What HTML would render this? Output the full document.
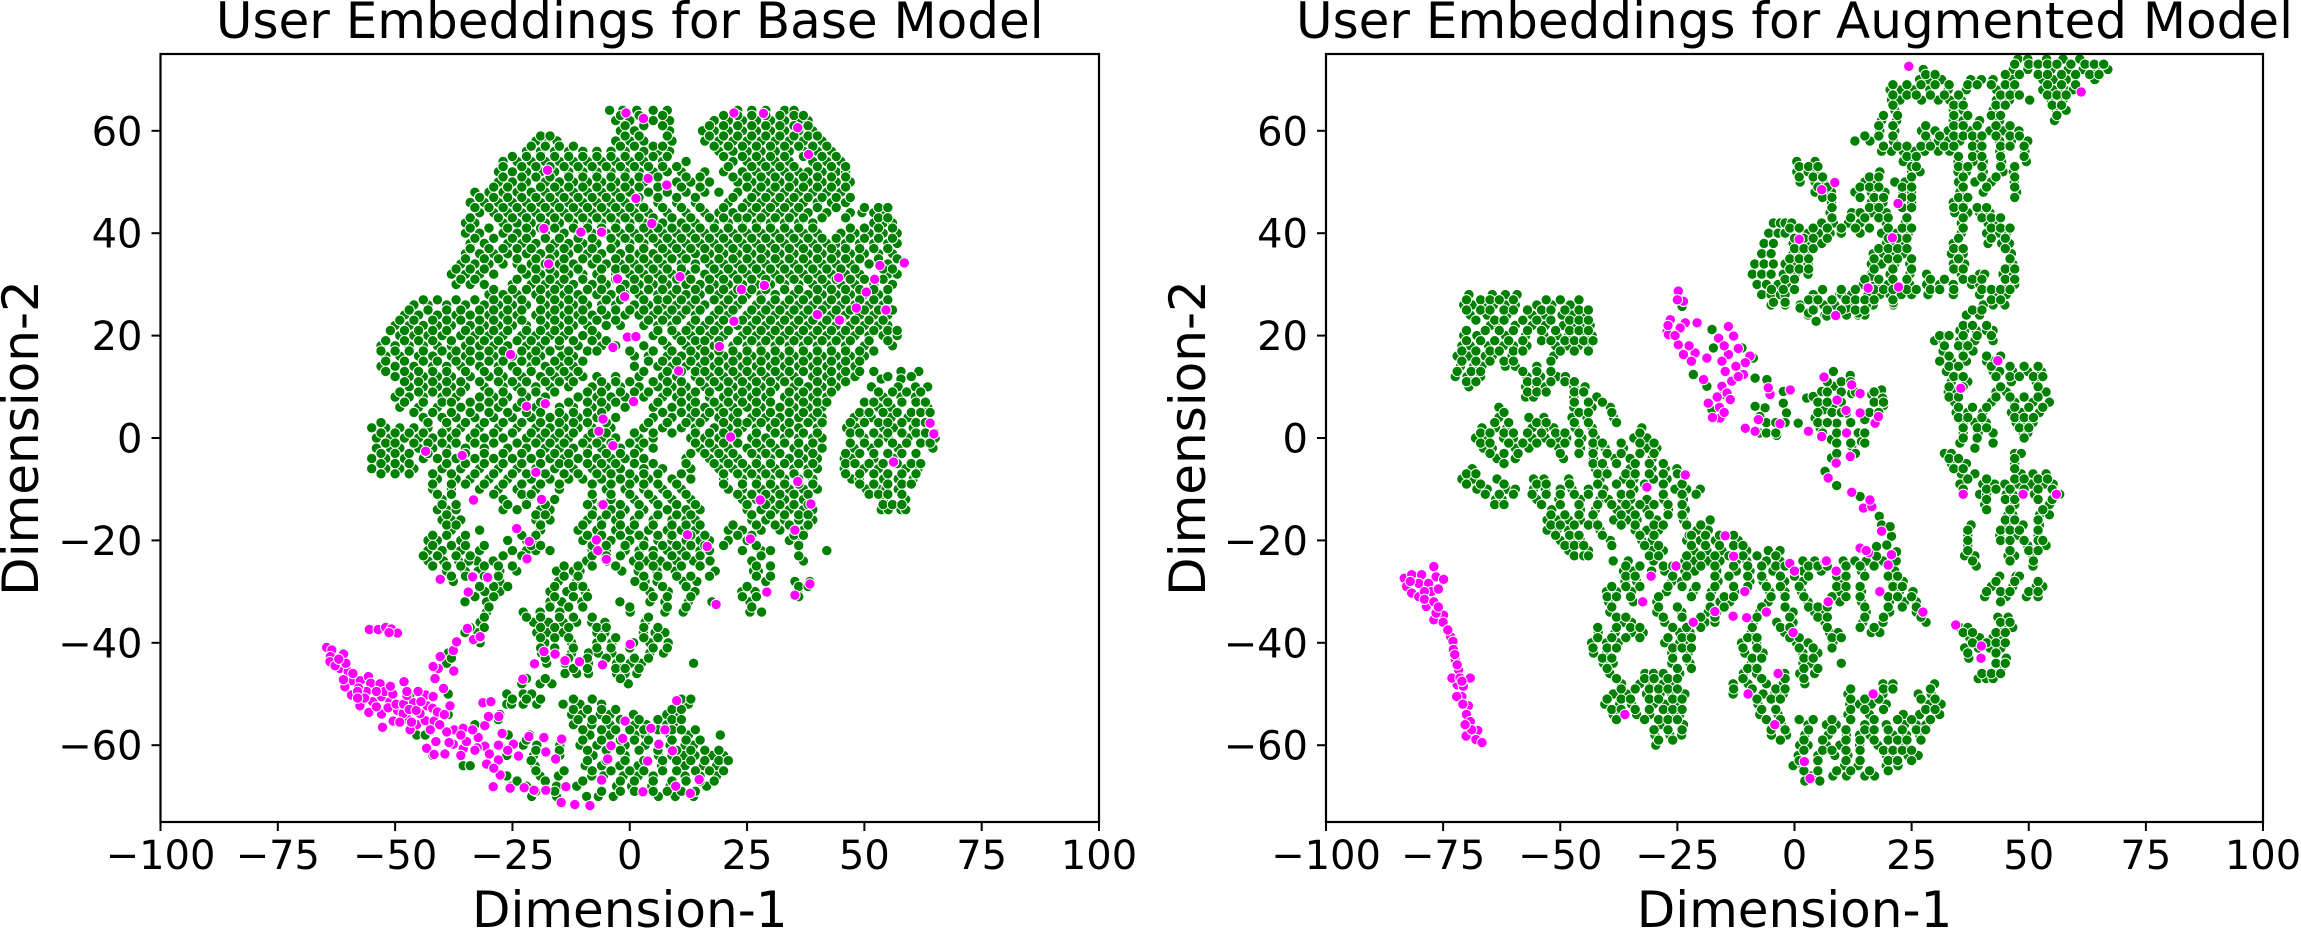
<!DOCTYPE html>
<html lang="en">
<head>
<meta charset="utf-8">
<title>User Embeddings</title>
<style>
html,body{margin:0;padding:0;background:#fff;width:2301px;height:941px;overflow:hidden}
svg{display:block}
text{font-family:"DejaVu Sans","Liberation Sans",sans-serif;fill:#000}
</style>
</head>
<body>
<svg id="fig" xmlns="http://www.w3.org/2000/svg" width="2301" height="941" viewBox="0 0 2301 941"></svg>
<script>
const xTicks=[-100,-75,-50,-25,0,25,50,75,100];
const yTicks=[-60,-40,-20,0,20,40,60];
const xLimits=[-100,100];
const yLimits=[-75,75];
const panelTitles=["User Embeddings for Base Model","User Embeddings for Augmented Model"];
const xAxisLabel="Dimension-1";
const yAxisLabel="Dimension-2";
/* Each row: first number is Dimension-2, the rest are Dimension-1 values at that height. */
const baseGreenRows=[
[64,-4.3,-1.5,1.5,5,8,23,26,29,33,35],
[62,-3,0,5,8.5,18,21,24,27,30,33,36,38],
[60,-2,1,8.5,15.5,18,21,24,27,30,33,36,39],
[58,-20,-18,-15.5,-3,0,3,9,16,19,22,25,28,31,34,37,41],
[56,-22,-19,-16,-13,-10,-7,-4,-1,3,6,8.5,19,22,25,28,31,34,37,40,43],
[54,-27,-24,-21,-18,-15,-12,-9,-6,-3,0,3,7,12,22,25,28,31,34,39,42,45],
[52,-28,-25,-22,-19,-16,-13,-10,-7,-4,-1,2,5,8,11,16,20,24,27,30,33,36,38,41,44,46],
[50,-28,-25,-22,-18,-15,-12,-9,-6,-3,0,3,10,13,17,23,26,29,32,35,38,41,44,47],
[48,-33,-30,-27,-24,-21,-18,-15,-12,-9,-6,-3,0,4,8,12,16,19,23,27,30,33,36,39,42,45],
[46,-34,-31,-28,-25,-22,-19,-16,-13,-10,-7,-4,-1,2,6,10,14,21,25,28,31,34,37,40,43,46],
[44,-32,-29,-26,-23,-20,-17,-14,-11,-8,-5,-2,1,4,8,12,16,19,22,26,29,32,35,38,42,47,49.5,52,54],
[42,-35,-33,-27,-24,-21,-18,-15,-12,-9,-6,-3,0,3,7,11,14,18,21,24,27,30,33,36,39,52,54,56],
[40,-35,-32,-27,-24,-21,-18,-14,-11,-8,-5,-2,1,4,7,10,13,16,19,22,25,28,31,34,37,40,45,48,51,54,57],
[38,-34,-31,-26,-23,-20,-16,-13,-10,-7,-3,0,3,6,9,12,15,18,21,24,27,30,33,36,39,42,44,46,49,52,55,57],
[36,-35,-32,-29,-26,-22,-19,-16,-13,-9,-6,-2,2,5,8,11,14,17,20,23,26,29,32,35,38,41,44,47,50,53,56],
[34,-36,-33,-30,-27,-24,-21,-18,-15,-12,-8,-5,-2,1,4,7,11,14,17,20,23,26,29,32,35,38,41,44,47,51,55],
[32,-38,-35,-32,-29,-22,-19,-16,-13,-10,-7,-3,0,3,6,9,12,16,19,22,25,28,31,34,37,40,43,46,49,55,57],
[30,-37,-34,-31,-25,-21,-18,-15,-12,-8,-5,-1,2,5,8,12,15,18,21,24,27,30,33,36,39,42,45,48,52,56],
[28,-30,-27,-24,-20,-17,-14,-11,-7,-4,-1,2,6,9,12,15,19,22,25,28,31,35,38,41,44,47,50,53],
[26,-46,-43,-39,-35,-31,-28,-25,-22,-18,-15,-12,-9,-6,-3,1,4,7,10,13,16,20,23,27,30,33,36,39,42,45,48,51,54],
[24,-48,-45,-41,-37,-34,-30,-27,-24,-20,-17,-14,-11,-8,-5,-1,2,5,8,11,14,18,21,25,28,31,34,37,40,43,46,49,52,55],
[22,-50,-47,-44,-41,-38,-34,-31,-28,-25,-22,-18,-15,-12,-9,-5,-2,3,6,9,13,16,19,23,26,29,32,35,38,41,44,47,50,53,55],
[20,-49,-46,-43,-40,-36,-33,-30,-27,-23,-20,-17,-14,-10,-7,5,10,13,17,20,24,27,30,33,36,39,42,45,48,51,54,57],
[18,-53,-50,-47,-44,-41,-38,-35,-32,-29,-26,-22,-19,-15,-11,-6,-3,3,8,12,15,18,22,25,28,31,34,37,40,43,46,50,56],
[16,-52,-49,-45,-42,-38,-35,-32,-29,-25,-21,-19,-14.5,-12,1,4,8,11,14,17,20,23,26,29,32,35,38,41,44,47,50],
[14,-53,-50,-46,-42,-39,-36,-32,-28,-25,-21,-18,-15,-12,1,6,9,12,15,18,21,24,27,30,33,36,39,42,45,48],
[12,-50,-47,-44,-41,-38,-34,-30,-27,-23,-19,-16,-13,-10,-7,-3,2,7,10,14,17,20,23,26,29,32,35,39,42,45,48],
[10,-47,-44,-41,-38,-35,-31,-27,-24,-20,-17,-13,-8,-5,-2,2,6,9,12,16,19,22,25,28,31,35,38,41,44],
[8,-50,-47,-44,-40,-37,-32,-29,-26,-22,-18,-11,-7,-4,-1,3,7,10,13,17,20,23,26,29,33,36,39,42],
[6,-49,-45,-41,-36,-32,-28,-24,-20,-15,-12,-8,-5,-1,5,9,13,16,19,22,25,28,32,35,38,41],
[4,-44,-40,-37,-33,-29,-25,-21,-17,-14,-11,-7,-3,5,9,13,16,19,22,26,29,32,36,39,41],
[2,-55,-52,-49,-46,-43,-39,-36,-32,-28,-24,-20,-17,-14,-11,-8,-4,3,7,11,14,18,21,24,27,30,33,36,40],
[0,-54,-51,-48,-45,-42,-38,-34,-31,-27,-22,-19,-16,-13,-9,-6,-3,2,5,13,16,19,22,26,29,33,36,39,41],
[-2,-54,-51,-49,-45,-42,-39,-35,-31,-26,-22,-18,-15,-12,-9,-6,-2,2,5,15,18,21,25,28,31,35,38,41],
[-4,-55,-52,-48,-44,-41,-37,-33,-29,-25,-21,-17,-14,-11,-7,-4,-1,3,12,17,20,23,27,30,34,37,40],
[-6,-55,-52,-49,-46,-40,-36,-32,-28,-24,-20,-16,-12,-8,-5,-2,3,7,13,19,22,25,28,31,35,38,40],
[-8,-41,-37,-34,-30,-26,-21,-17,-13,-10,-6,-2,1,4,9,13,20,24,27,30,33,36,39],
[-10,-42,-38,-32,-28,-24,-20,-15,-5,-1,3,7,11,21,24,28,31,34,37,40],
[-12,-40,-27,-22,-19,-16,-8,-4,1,5,9,13,24,27,30,33,37],
[-14,-41,-39,-37,-27,-24,-19,-17,-8,-4,-1,3,8,12,15,25,28,31,34,37,39],
[-16,-40,-38,-36,-20,-17,-9,-6,-3,1,5,9,12,14,26,29,33,36,39],
[-18,-38,-32,-19,-11,-7,-3,0,4,8,11,14,21,24,28,32,35,37],
[-20,-43,-41,-36,-26,-22,-20,-10,-7,-4,0,3,6,9,12,15,17,21,25,34,36],
[-22,-43,-40,-36,-32,-25,-22,-20,-17,-8,-5,-1,2,5,8,11,15,17,24,28,30,42],
[-24,-42.6,-39.7,-36.5,-32.6,-29.1,-43,-34.3,-9.2,-4.9,0.8,3.6,6.5,10,13.6,17.1,26,37],
[-26,-39,-35.1,-32.3,-27.7,-24.1,-15.6,-12,-10.6,-1.7,1.8,5.8,9.7,18.2,26.4,27.4],
[-28,-37.6,-27.7,-15.2,-11.3,1.1,3.3,5.8,11.4,14.3,29,35.2,38.4],
[-30,-30.9,-27.7,-17,-13.4,-9.5,4.3,8.2,13.9,23.9,26.7,35.8],
[-32,-35.1,-30.5,-17,-14.5,-10.2,-2.1,4.3,7.5,12.5,17.5,25.6],
[-34,-30.5,-22.7,-19.1,-14.9,0.1,7.5,11.4,25.6,28.1],
[-36,-31.9,-20.5,-17.3,-14.2,-11.3,-8.1,-5.3,3.3],
[-38,-35.1,-32.3,-19.8,-17.7,-14.2,-7,-5.3,2.9,5.4,7.5],
[-40,-31.9,-18.1,-12.4,-7,-3.8,0.8,4.3,8.2],
[-42,-38.7,-18.8,-12.4,-8.8,-6.7,-3.8,4.3,7.2],
[-44,-39,-17.7,-13.8,-8.8,-2.8,0.1,2.5,13.6],
[-46,-13.8,-11.3,-8.8,-2.8,-1,1.5],
[-48,-23,-19.1,-16.6,-0.3],
[-50,-38.7,-26.2,-22.7,-20.9,-46.8],
[-52,-26.2,-25.2,-22.7,-19.8,-14.2,-10.6,-6,10.7,12.5],
[-54,-38.7,-27.7,-12.4,-10.2,-6.3,-4.2,0.8,7.9,10],
[-56,-33,-12,-8.1,-4.2,1.1,3.6,7.9,9.3],
[-58,-45.4,-43.6,-25.9,-21.3,-8.5,-4.2,1.1,3.3,8.6,12.5,19.3],
[-60,-27.7,-22.7,-19.8,-14.9,-10.6,-7,-1,3.3,8.6,11.8,13.6],
[-62,-42,-26.2,-20.5,-14.9,-7.8,-1,6.1,9,11.4,13.9,17.5,20],
[-64,-35.5,-34,-20.2,-9.5,-6,-2.1,1.8,6.8,11.8,15.7,18.5],
[-66,-26.2,-19.1,-15.2,-8.1,-5.6,-1.4,1.8,5,11.8,15,18.5],
[-68,-25.2,-22,-15.6,-11.3,-2.8,0.4,4.7,8.6,16.4],
[-70,-20.9,-15.6,-9.2,-6.7,-3.5,6.1,9.7,13.6],
[13,52,57.8,61.6],
[11.5,53.6,57.8],
[10,51.5,57.2,60.9,63.5],
[8,54,57.8,60.9],
[6,53,55.7,63.5],
[4,47.8,49.9,51.5,55.7,59.3],
[2,46.2,48.3,54.1,56.2,60.4],
[0,49.9,53,55.1,59.3,64,65.1],
[-2,47.8,51.5,57.2,64.6],
[-4,45.7,47.3,52,56.2],
[-6,45.7,49.9,53,58.8,61.4],
[-8,47.3,48.9,54.1,57.2,60.4],
[-10,50.4,53,54.6,57.2],
[-12,54.1,58.8],
[-14,53.6,55.1,57.8,58.8],
[12,55,60],[9,53,56,59,62],[7,50,52,55,58,61,63],[5,49,51,54,57,60,62,64],[3,47,50,53,55,58,61,63],[1,47,49,52,55,58,61,63,65],[-1,47,50,53,56,59,62,64],[-3,46,49,52,55,58,61],[-5,46,48,51,54,57,60,62],[-7,46,49,52,55,58,61],[-9,49,52,55,58,60],[-11,51,53,55,58],[-13,54,56,58],
[63,-2,2,7,20,23,26,29,32,35,37],
[61,-1,3,7,17,20,23,26,29,32,35,38],
[59,-19,-17,-1,2,8,17,20,23,26,29,32,35,38,40],
[57,-21,-18,-15,-12,-2,1,5,7,18,21,24,27,30,33,36,39,42],
[55,-25,-22,-19,-16,-13,-10,-7,-4,-1,2,5,8,20,24,27,30,33,37,41,44],
[53,-27,-23,-20,-17,-14,-11,-8,-5,-2,1,4,7,10,21,26,29,32,35,40,43,46],
[51,-27,-23,-20,-17,-13,-10,-7,-4,-1,2,6,12,15,22,25,28,31,34,37,40,43,46],
[49,-29,-26,-23,-19,-16,-13,-10,-7,-4,-1,2,6,11,15,25,28,31,34,37,40,43,46],
[47,-32,-29,-26,-23,-20,-17,-14,-11,-8,-5,-2,2,6,10,14,22,26,29,32,35,38,41,44,47],
[45,-33,-30,-27,-24,-21,-18,-15,-12,-9,-6,-3,0,3,7,11,15,20,24,27,30,33,36,40,44,50,53,55],
[43,-34,-28,-25,-22,-19,-16,-13,-10,-7,-4,-1,2,5,9,13,17,20,23,25,28,31,34,37,41,46,53,55],
[41,-34,-30,-26,-22,-19,-16,-12,-9,-6,-3,0,3,6,9,12,15,18,21,24,27,30,33,36,39,47,50,53,56],
[39,-33,-29,-25,-22,-18,-15,-11,-8,-4,-1,2,5,8,11,14,17,20,23,26,29,32,35,38,41,44,47,50,53,56],
[37,-34,-30,-27,-24,-21,-17,-14,-11,-8,-4,0,3,7,10,13,16,19,22,25,28,31,34,37,40,43,46,49,52,55],
[35,-35,-31,-28,-24,-20,-17,-14,-10,-7,-3,0,3,6,9,12,16,19,22,25,28,31,34,37,40,43,46,49,53,57],
[33,-37,-34,-31,-23,-20,-17,-14,-11,-6,-3,-1,2,5,8,11,14,18,21,24,27,30,33,36,39,42,45,48,54,56],
[31,-36,-33,-24,-20,-17,-14,-10,-6,-3,1,4,7,10,13,17,20,23,26,29,32,35,38,41,44,47,50,54],
[29,-29,-25,-22,-19,-16,-13,-9,-6,-2,1,4,7,10,14,17,20,23,26,29,33,36,40,43,46,49,52,55],
[27,-44,-41,-37,-33,-29,-26,-23,-19,-16,-13,-10,-5,-2,3,6,8,11,14,18,21,24,28,31,34,37,40,43,46,49,52,55],
[25,-47,-43,-39,-36,-32,-29,-26,-23,-19,-16,-13,-10,-6,-3,0,3,6,9,12,15,19,22,26,29,32,35,38,41,44,47,50,53,56],
[23,-49,-46,-42,-39,-36,-32,-29,-26,-23,-19,-16,-13,-10,-7,-3,4,7,10,14,17,20,24,27,30,33,36,39,42,45,48,51,54],
[21,-51,-48,-45,-42,-39,-35,-32,-29,-26,-22,-19,-16,-13,-8,6,9,12,15,18,21,25,28,31,34,37,40,43,46,49,52,55,57],
[19,-52,-48,-45,-42,-38,-34,-31,-28,-24,-21,-18,-15,-12,-8,-5,7,11,14,16,19,23,26,29,32,35,38,41,44,47,51,55],
[17,-53,-50,-47,-44,-40,-37,-34,-30,-27,-23,-20,-17,-13,-9,-7,0,5,9,13,16,19,22,25,28,31,34,37,40,43,46,49,52],
[15,-52,-48,-44,-41,-37,-34,-30,-27,-23,-20,-16,-13,-10,4,7,10,13,16,19,22,25,28,31,34,37,40,43,46,49],
[13,-52,-48,-45,-42,-39,-35,-31,-28,-24,-21,-17,-14,-11,3,8,11,14,16,19,22,25,28,31,34,37,40,43,46,49],
[11,-48,-45,-42,-39,-36,-32,-28,-25,-22,-18,-15,-12,-6,-3,0,5,8,11,15,18,21,24,27,30,33,36,40,43,46],
[9,-49,-45,-42,-39,-36,-30,-27,-23,-20,-16,-9,-6,-2,1,4,8,11,14,17,21,24,27,30,34,37,40,43],
[7,-48,-44,-40,-38,-34,-30,-27,-23,-19,-13,-9,-6,-3,1,6,11,14,18,21,24,27,30,34,37,40,42],
[5,-46,-42,-38,-34,-30,-26,-22,-19,-15,-12,-9,-6,7,11,14,17,20,23,27,30,34,37,40],
[3,-53,-43,-39,-35,-31,-27,-23,-19,-15,-12,-9,-5,4,8,12,15,20,23,25,28,31,34,38,41],
[1,-53,-50,-47,-44,-40,-37,-33,-29,-25,-21,-18,-15,-12,-8,-5,1,5,9,14,17,20,23,27,31,34,37,40],
[-1,-52,-50,-46,-43,-40,-37,-33,-29,-24,-20,-17,-14,-10,-7,-4,0,3,14,17,20,23,27,30,33,36,39],
[-3,-53,-50,-47,-43,-39,-35,-31,-27,-23,-19,-16,-13,-9,-5,-2,1,13,16,19,22,26,29,32,36,39],
[-5,-53,-50,-47,-39,-35,-31,-27,-23,-19,-15,-13,-9,-6,-3,1,5,12,18,21,24,27,30,33,36,39],
[-7,-53,-50,-47,-42,-38,-33,-29,-25,-22,-18,-14,-11,-7,-4,0,3,6,11,20,23,26,29,32,35,38],
[-9,-42,-38,-35,-31,-27,-23,-19,-15,-8,-4,0,3,6,10,20,24,27,30,33,36,39],
[-11,-41,-38,-29,-23,-21,-8,-4,0,4,8,12,23,26,29,32,35,38],
[-13,-40,-37,-26,-22,-18,-9,-6,-2,2,6,10,14,25,29,32,35,38],
[-15,-39,-20,-18,-8,-5,-2,2,6,10,13,26,30,33,36,38],
[-17,-39,-37,-19,-10,-6,-2,1,5,9,12,15,22,27,31,34,38],
[-19,-42,-39,-35,-23,-20,-9,-6,-2,2,6,9,13,16,23,26,35,37],
[-21,-42,-38,-35,-31,-21,-19,-8,-5,-1,3,7,10,13,16,20,27,36],
[-23,-44,-41,-37,-34,-27,-23,-8,-5,-2,2,5,9,12,15,28,36],
[-25,-42,-39,-36,-31,-28,-25,-14,-11,-8,-3,2,5,8,11,15,27,30],
[-27,-38,-35,-31,-28,-14,-11,3,6,10,13,17,27,30],
[-29,-32,-29,-26,-16,-12,-10,3,7,12,25,36,38],
[-31,-33,-29,-16,-12,-9,5,8,13,24,27,36],
[-33,-30,-17,-13,-10,0,8,12,26],
[-35,-31,-22,-19,-15,-12,-8,4],
[-37,-34,-31,-19,-16,-13,-7,-5,3,6],
[-39,-32,-19,-16,-13,-6,-3,3,6],
[-41,-19,-16,-12,-7,-4,0,5,8],
[-43,-38,-18,-13,-9,-5,-2,1,4],
[-45,-12,-9,-3,-1,2],
[-47,-22,-18,-2],
[-51,-25,-22,-19,-12,-8,11,13],
[-53,-12,-9,-6,-3,9,11],
[-55,-28,-11,-8,-5,-2,2,6,9,11],
[-57,-10,-6,-3,0,3,6,9,11,14],
[-59,-22,-10,-6,-2,1,4,9,12,15],
[-61,-20,-15,-9,-5,-2,2,6,10,13,16,19],
[-63,-21,-9,-5,-1,3,7,10,13,16,19,21],
[-65,-20,-14,-8,-4,0,3,7,10,14,17,20],
[-67,-24,-18,-10,-6,-2,1,5,9,12,15,18],
[-69,-20,-16,-6,-2,1,5,8,11,14]
];
const basePinkPoints=[
[-64.6,-40.9],[-63.5,-41.4],[-61,-42.2],[-63.8,-42.7],[-63.9,-43.7],[-61.8,-45],[-62.8,-44.5],[-60,-45.6],[-59.3,-47.4],[-57.4,-47.4],[-55.7,-46.6],[-55.2,-47.9],[-60.7,-48.6],[-53.2,-48],[-59.3,-50.2],[-57.9,-51],[-56.1,-49.5],[-52.9,-50.5],[-54.8,-51.5],[-52.2,-49.5],[-57.5,-52.3],[-55.6,-53.6],[-52.9,-53.9],[-51.1,-51.5],[-50.4,-55.3],[-52.7,-56.5],[-49.5,-53.2],[-47.4,-54.9],[-46.1,-51.7],[-43.2,-52.3],[-43.5,-50.2],[-45.1,-49.5],[-48.1,-47.6],[-41.9,-50.5],[-45.4,-56],[-43.6,-55.2],[-41.7,-55.3],[-48.3,-53.8],[-44.7,-53.8],[-46.8,-57],[-38.3,-52.3],[-39.7,-48.9],[-41.5,-47],[-40.8,-45],[-41.9,-44.6],[-37.5,-45.5],[-40.4,-42.7],[-37.6,-41.5],[-36.9,-39.8],[-34.6,-37],[-33.3,-39.4],[-31.9,-38.8],[-55.5,-37.4],[-53.6,-37.4],[-52,-37],[-50.8,-37.3],[-49.5,-38.1],[-51.3,-38],[-37.4,-57],[-39,-57.4],[-41.3,-59.3],[-43.3,-60.6],[-41.7,-61.8],[-39.4,-61.7],[-37.6,-59.8],[-35.5,-60.7],[-34.8,-59.3],[-32.3,-58.5],[-30.9,-60.2],[-29.9,-61.7],[-35.5,-56.7],[-30.9,-56.2],[-30.1,-54.4],[-27.9,-54.4],[-31.3,-51.7],[-29.6,-51.5],[-27.2,-57.7],[-28,-62.9],[-30.5,-63.7],[-27.6,-65.8],[-29.1,-68.1],[-25.5,-68.4],[-24.8,-59.8],[-23.7,-62.1],[-21.5,-58.3],[-18.3,-58.5],[-17.9,-61.3],[-15.8,-62.7],[-14.5,-58.8],[-22.5,-68.3],[-20.4,-68.8],[-17.9,-68.8],[-13.6,-68.1],[-14.6,-71.2],[-11.7,-71.6],[-8.5,-71.8],[-4.7,-62.7],[-4,-60.1],[-1.5,-58.7],[4.5,-56.7],[7.5,-57],[9.1,-61.1],[6.2,-59.8],[3.8,-63.1],[9.8,-68],[12.9,-69.4],[2.8,-69.1],[14.8,-66.7],[-6,-66.8],[10,-51.3],[-1,-55.3],[-18.3,-41.7],[-15.9,-42.2],[-13.8,-43.5],[-10.7,-43.7],[-5.8,-44.3],[0.1,-40.3],[-20.3,-44.1],[-22.8,-47.1],[-33.3,-27],[-30.1,-27.4],[-40.4,-27.7],[-34.4,-30.1],[18.4,-32.5],[-22,-23.8],[29.2,-30.1],
[-60.5,-44],[-62,-43.2],[-59,-46],[-57.8,-48.8],[-56.5,-50.8],[-58,-49.5],[-54,-49.5],[-54,-52.5],[-51.5,-52.7],[-50.5,-50],[-49.8,-52],[-48.2,-52],[-47,-53],[-45.5,-53.2],[-44.5,-51.5],[-42,-52.8],[-41,-53.5],[-39.5,-54],[-46.5,-55.5],[-49,-55.5],[-42.5,-57],[-40.5,-56],[-38.5,-59.5],[-36,-58],[-33.5,-57],[-32.5,-60.5],[-36,-62],[-33,-61],[-28,-60],[-26,-61],[-29,-64.5],[-47.5,-50.3],[-51,-48.5],[-61,-47.2],[-58,-50.8],[-47.5,-49.5],
[-17.5,52.3],[1.3,46.8],[7.9,49.4],[4.7,41.9],[-18.3,40.9],[-10.4,40.2],[-6,40.2],[2.9,62.4],[-0.8,63.5],[3.9,50.7],[-17.3,34],[-2.6,31.1],[-1.1,27.6],[23.8,29],[28.7,29.8],[22.2,22.8],[28.5,63.4],[22.2,63.5],[10.7,31.5],
[35.8,60.6],[38.1,55.4],[58.5,34.2],[53.3,33.7],[52.2,31],[50.4,28.5],[54.6,25.1],[44.7,23],[40,24.1],[44.5,31.3],[48.3,25.4],
[19.1,17.9],[10.4,13.1],[-0.5,19.7],[1.3,19.8],[-3.6,17.7],[-18,6.7],[-22,6.2],[-5.7,3.7],[-6.6,1.3],[-3.6,-1.5],[21.5,0.2],[0.8,7.1],[-43.5,-2.6],[-35.7,-3.4],[-20,-6.7],[-18.8,-12],[-33.3,-12.1],[-24.1,-17.7],[-21.4,-20.2],[-21.9,-23.6],[-7.1,-19.9],[-6.8,-22],[-5,-23.7],[12.3,-18.9],[16.5,-21.2],[25.7,-19.7],[-40.4,-27.6],[-33.5,-27.1],[-30.3,-27.2],[-34.6,-37.2],[-5.7,-13],[27.8,-12.1],[-25.4,16.3],
[56.2,-4.7],[64,2.9],[64.8,0.8],[35.2,-18],[38.6,-12.9],[38.4,-28.5],[35.2,-30.7],[54.6,25],[35.8,-8.5]
];
const augGreenRows=[
[74,47.7,49.8,53.8,57.3,60.9],
[72,27.5,46.7,49.8,54.8,58.4,61.6,64.4,66.9],
[70,26.7,28.5,31.4,37.6,39.9,42.4,46.6,53,55.2,58,64.1],
[68,20.4,22.8,25.3,28.9,32.8,36.7,43.1,46.3,53,55.2,57.7,59.5],
[66,20.7,22.5,27.1,30.7,33.1,35.6,43.1,45.9,50.2,54.8,57.3],
[64,21.4,33.9,36,42.4,55.9,58],
[62,18.6,21.8,33.9,36,39.5,43.8,55.5],
[60,18.2,21.4,27.1,30,32.8,37.4,41.7,44.5,47.9],
[58,12.9,16.1,21.1,28.2,30.7,32.8,35.3,39.5,43.8,46.3,49.8],
[56,18.6,20.7,23.2,25.7,27.8,30.7,33.1,39.5,43.8,49.2],
[54,0.5,4.4,23.2,25.3,34.9,38.1,40.3,44.2,49.5],
[52,0.5,2.9,4.4,18.2,25,26.8,34.9,36.7,40.3,44.5,46.7],
[50,1.2,4.4,6.1,15,17.2,21.4,23.6,35,38.5,42,46.9],
[48,4.4,7.9,12.9,16.4,19.3,23.2,25,35.3,40.3,47.4],
[46,7.9,16.4,18.9,25,33.9,36],
[44,7.6,12.2,14,16.4,19.6,34.2,37,39.5,41.7],
[42,-4.5,-3,-2,-0.6,5.8,8.3,11.5,14,19.6,23.6,35.6,41.3,43.5],
[40,-5.5,-3.5,-2,1.2,2.9,5.1,7.6,10,14,18.6,21.8,24.3,35.6,41,43.8,45.2],
[38,-6.5,-4.5,-0.3,1.5,3.3,5.8,19.6,21.4,23.6,33.9,41.3,44.2,45.9],
[36,-7,-5,-0.3,1.2,2.9,16.8,19,21.4,23.2,33.5,36,46.3],
[34,-8.5,-6.5,-4.5,-2,0.1,2.9,16.4,18.6,21.4,24.6,33.9,36.3,46.6],
[32,-9,-7,-5,-2.4,0.1,2.9,16.4,20.4,24.6,28.2,35.6,39.5,40.6,45.9,44.5],
[30,-8,-6,-3.5,-1.7,14.7,17.2,20,24.6,28.2,31,33.9,37.8,39.5,45.2,47],
[28,-7,-5,-3,-2,4,9.7,12.2,15.7,18.6,20.4,22.8,25,28.5,33.9,39.5,42.4,45.2],
[26,-5,-2,1.2,5.8,8.6,11.5,15.4,16.8,21.1,42.4,44.9,40.3],
[24,2.9,6.5,11.1,13.6,15,36.7,39.5],
[29,-2.4,-4.9],[26.5,-4.5,-2],[31.6,0.1,16.5],[25.4,1.2,11.1],[24.4,3,13.6],[27,4],[22.8,4.6],[26,6.2,15.4],[23.8,6.9],[28,10.1,12.2,18.2],[26.4,21.1],
[21,35.3,38.8,42.4,36.3,41],
[19,29.9,32,36,38.5,42.4,35.3,31.7],
[17,31.7,36,38.1],
[15,31,33.5,36.7,41,42.4],
[13,32.4,42.4,43.8,46.6,49.8,52.7],
[11,33.5,37,46.3,51.6],
[9,32.8,34.2,43,45.2,53.7],
[7,34.2,42,47,50.9,54.4],
[5,34.5,37,40.2,46.3,48.4,52.3],
[3,36,38.5,40.9,47.3,49.5,50.9],
[1,36,39.2,42.4,48.8,49.8],
[-1,35.3,42.4],
[-2,38.5],
[-3,32,33.5,47,48.4],
[-5,33.5,36.7,47],
[-7,35.6,38.5,48.4,50.9,53.7],
[-9,35.3,40.2,42.7,44.9,47.7,50.5,53.4,55.2],
[-11,39.5,41,45.2,46.6,51.2,56.6],
[-13,40.6,47,54.4],
[-15,45.6,46.6,52.3,54.4],
[-17,37.7,45.2,48.8,52.3],
[-19,37,43.8,46.3,47.7,52],
[-21,37,49.8,52.3,53.7],
[-23,36.3,38.5,45.6,47,50.9],
[-25,38.8,50.9],
[-27,43.8,47.3,48],
[-29,42,46.6,51.6,53],
[-31,40.6,45.2,49.5,52],
[-35,43.4,45.6],
[-37,35.3,37,44.9,46.6],
[-39,37.4,39.5,42.4,44.5],
[-41,36.3,39.2,41.7,44.1],
[-43,37.2,45.2],
[-45,43.1,44.1],
[-47,39.2,40.9,42.4],
[28,-69.5,-64.5,-61.7,-59.2],
[26,-70.6,-68.8,-66,-64.2,-61.7,-59.6,-55,-51.8,-47.9],
[24,-69.2,-65.6,-61.4,-56,-53.2,-49.6,-47.5,-45],
[22,-64.9,-63.1,-59.6,-56,-53.2,-49.3,-47.5,-45,-43.6],
[20,-70.6,-67.8,-61.7,-57.4,-53.5,-50.7,-48.2,-45,-43.2],
[18,-71,-69.2,-65.3,-62.1,-60,-57.1,-51,-48.6,-46.1,-44],
[16,-72,-69.5,-66,-64.5,-60.3,-51.4],
[14,-71.3,-68.5,-66.7,-61.7,-59.6,-55],
[12,-72.4,-69.9,-67,-57.1,-54.2,-50.7,-48.9],
[10,-69.5,-57.4,-55,-53.2,-47.1,-44.7],
[8,-57.4,-55.7,-47.1,-42.2],
[6,-63.1,-47.1,-43.2,-39.3],
[4,-63.1,-56.7,-53.5,-47.5,-44.3,-38.6],
[2,-66.7,-63.8,-61.4,-56,-53.2,-51.4,-46.8,-43.2,-32.6],
[0,-68.1,-65.6,-62.1,-60,-56,-53.2,-50.7,-48.6,-45.4,-42.5,-34.3,-31.5],
[-2,-66.4,-64.5,-59.6,-56.7,-50.3,-45.7,-42.9,-40.4,-36.5,-31.5,-29.4],
[-4,-63.5,-59.6,-49.3,-42.9,-38.3,-35.1,-30.4],
[-6,-68.8,-42.5,-40.7,-35.1,-30.4,-27.6,-25.1],
[-8,-71,-68.5,-63.5,-55.7,-53.5,-48.2,-41.5,-36.5,-34.3,-30.1,-27.2],
[-10,-67.8,-65.6,-61.4,-59.6,-55.7,-53.2,-50,-47.5,-44,-40.7,-34.3,-25.5,-23,-20.1],
[-12,-63.8,-62.4,-55,-50.3,-45.7,-41.5,-39.7,-36.8,-35,-31.5,-27.9,-23.7],
[-14,-51.8,-45.7,-42.5,-37.9,-35.1,-31.5,-26.9,-23.3],
[-16,-52.8,-50.3,-48.2,-45.7,-42.9,-38.6,-35.8,-33.6,-29.4,-23.7,-18],
[-18,-52.8,-50.7,-48.2,-41.5,-34,-31.5,-29,-20.8,-18.4],
[-20,-50,-47.9,-45.7,-39.3,-32.6,-30.4,-23,-20.1,-16.9,-12],
[-22,-48.2,-44,-30.4,-28,-21.5,-18.7,-15.5,-10.2,-5.6,-3.1],
[-24,-38.7,-35.5,-30.1,-23.4,-21.3,-18.4,-15.9,-12.4,-10.2,-6,-3.1,1.8,4.3,10.4,12.9,15.3,18.9,21.7],
[-26,-36.5,-34.4,-30.5,-27.7,-23.4,-21.3,-16.6,-12.4,-9.5,-4.6,1.8,5.7,14.3,21.4],
[-28,-36.2,-33.7,-26.2,-24.1,-16.3,-9.5,-6.7,-2.1,1.8,10.4,21,23.2],
[-30,-40.1,-38,-34.8,-27.3,-21.6,-17.7,-12.7,-5.3,-2.1,1.5,9.7,14.3,22.4,25.3],
[-32,-39.7,-34.4,-29.4,-15.9,-13.8,-5.6,2.9,9.7,14.3,20.3,23.5,26],
[-34,-39.4,-29.4,-24.1,-18.4,-16.6,-7.4,-0.3,4.3,6.5,15.3,20.3,26],
[-36,-36.5,-34.8,-27.7,-19.1,-17,-8.8,-3.8,-0.3,6.5,14.6,18.9,28.1],
[-38,-41.9,-38.3,-34.8,-32.3,-24.5,-22.3,-9.2,-2.1,7.5,9.3,16.4,18.2],
[-40,-43.3,-40.1,-37.6,-27.7,-24.5,-22.3,-11.3,-8.1,0.4,2.9,8.2],
[-42,-42.9,-40.1,-26.2,-22.7,-10.6,-6.7,1.8,5],
[-44,-40.8,-38.7,-26.2,-22.3,-9.2,1.8,3.6,10],
[-46,-39.4,-31.9,-30.1,-28,-24.5,-10.9,-8.1,-2.1,1.1,4.3],
[-48,-36.9,-33,-30.9,-28,-25.9,-13.1,-9.9,-6,-2.4,2.2,18.9,21,29.9],
[-50,-38.7,-35.8,-31.6,-28.7,-26.2,-23.4,-13.1,-6.7,-4.2,-2.4,11.4,18.9,26.4,29.2],
[-52,-40.5,-37.3,-34.8,-30.1,-27.7,-24.5,-7.8,11.8,13.9,16.4,19.6,28.8,31.3],
[-54,-38.7,-37.3,-33.7,-30.9,-26.6,-24.5,-7.4,-3.5,11.4,16,23.2,26.7,31],
[-56,-28.7,-23.7,-4.9,-2.8,2.9,6.8,8.9,15,19.6,23.5,26,28.1],
[-58,-29.8,-26.6,-24.1,-4.9,-1.7,2.2,7.2,11.1,13.9,16.1,21,23.9,26.7],
[-60,1.1,2.9,6.8,9.7,13.9,17.8,23.2,-29.6],
[-62,0.8,5,8.6,11.4,19.6,21,24.2,26.4],
[-64,-0.3,1.8,10.7,13.6,19.6,22.1],
[-66,3.6,8.2,11.1,15,17.1],
[-67,2.2,5.4],
[25.7,-24],[21.2,-17.6],[17.6,-17.3,-11.2],[15.6,-8.8],[12.4,-21.6],[10.1,-18.7],[11.7,-8.4],[11.4,-5.9],[8.5,-15.5],[5.5,-17.6],[13.7,-12.3],
[5.9,-6.3],[6.2,-8.4],[4.2,-7.4],[9.1,-2.4],[6.8,-2.4],[4.9,-1.7],[2.9,0.8],[0.5,-3.8],[1,-7.4],[7.8,2.6],[8.1,4],[9.1,5.8],[13,8.3],[10.1,8.3],[12.2,11.9],[8.7,12.2],[8.5,16.5],[9.4,18.6],[7.8,18.8],[6.3,19],[5.5,6.2],[6.5,8.3],[3.9,4.4],[2.9,9],[1.9,5.5],[3.6,15],[1,13.6],[-0.3,7.9],[-0.7,14.3],[-1.6,12.2],[-3.9,7.9],[-6.5,6.5],[-9.3,9],[4.9,11.1],[3,6.9],
[-11.4,14],[-15.3,18.1],[-17,18.6],[-19.2,20.7],[-21.2,17.5],[-20.9,19.7],[-17.3,20.4],[-23.1,17.5],[-22.2,21.8],[-19,-22.5,-19,-15],
[73,47,50,52,54,56,59,62,64,66],
[71,28,30,45,48,52,54,57,60,63,65],
[69,21,24,27,30,33,37,39,42,45,47,54,57,60],
[67,21,24,26,29,32,35,44,46,48,54,56,58],
[65,21,34,36,43,45,55,57],
[63,19,22,34,37,42,44,56],
[61,18,21,28,34,36,39,43,46],
[59,15,18,21,28,31,34,36,38,40,43,46,48],
[57,19,22,24,27,29,32,34,38,40,44,46,49],
[55,24,26,35,38,40,44,49],
[53,1,3,5,25,26,35,37,40,44,47],
[51,1,4,6,16,18,25,36,40,43,47],
[49,5,7,14,16,18,23,25,36,41,47],
[47,6,8,14,17,19,23,25,35,37,47],
[45,8,16,18,23,25,34,36,39,41],
[43,8,12,15,18,20,24,36,40,42,44],
[41,-1,1,4,7,10,13,16,20,23,25,36,42,44,46],
[39,0,2,4,7,20,22,24,35,42,45],
[37,0,2,4,18,20,22,24,34,36,45],
[35,-1,1,3,17,20,22,25,35,46],
[33,-1,1,3,17,21,25,34,36,45,47],
[31,-2,0,15,18,21,24,29,32,36,38,40,45,47],
[29,0,6,10,13,17,19,21,24,26,29,31,34,40,42,44,46],
[27,3,5,8,11,13,15,17,21,42,44],
[25,4,7,10,13,15,38,40],
[22,36,38,41],
[20,31,33,36,39,42],
[18,32,35,37],
[16,33,36,41,44],
[14,33,35,42,46,49,52],
[12,34,36,43,46,48,51,53],
[10,33,36,44,52],
[8,33,35,43,46,49,52],
[6,35,38,41,47,50,53],
[4,35,37,40,47,49,51],
[2,36,39,41,48,50],
[0,36,39,49],
[-4,33,35,47],
[-6,34,36,47],
[-8,37,41,47,49,52,54],
[-10,36,41,43,46,49,52,55],
[-12,41,45,47,52,55],
[-14,41,46,53],
[-16,45,47,52],
[-18,37,44,46,48,52],
[-20,37,44,46,49,52,53],
[-22,37,46,50,52],
[-24,38,46,51],
[-28,43,47,52],
[-30,41,44,46,50,52],
[-32,44],
[-36,44,46],
[-38,36,38,43,45],
[-40,38,41,43,45],
[-42,37,43],
[-44,43,45],
[-46,40,42,44],
[27,-70,-67,-65,-63,-60,-53,-50,-46],
[25,-70,-67,-65,-62,-60,-57,-54,-52,-49,-46,-44],
[23,-68,-64,-62,-58,-55,-52,-48,-46,-44],
[21,-70,-66,-63,-60,-57,-54,-51,-48,-46,-44],
[19,-70,-67,-64,-61,-58,-54,-52,-49,-47,-45,-43],
[17,-71,-68,-65,-63,-60,-58,-50,-47,-44],
[15,-71,-68,-65,-62,-60,-52],
[13,-72,-69,-67,-58,-55,-52],
[11,-70,-68,-57,-55,-52,-49,-47],
[9,-57,-55,-53,-47,-45],
[7,-47,-44,-41],
[5,-62,-46,-44,-39],
[3,-64,-61,-55,-53,-47,-44,-38],
[1,-67,-65,-62,-60,-57,-54,-51,-49,-46,-43,-33],
[-1,-67,-65,-61,-58,-55,-52,-49,-46,-43,-41,-37,-33,-30],
[-3,-65,-62,-59,-50,-46,-43,-40,-37,-33,-30],
[-5,-62,-43,-41,-38,-34,-31,-28],
[-7,-70,-68,-42,-40,-36,-34,-31,-28,-25],
[-9,-70,-67,-62,-55,-53,-48,-42,-38,-35,-32,-28,-24],
[-11,-66,-63,-60,-56,-53,-50,-47,-44,-41,-37,-35,-28,-24,-21],
[-13,-64,-62,-54,-50,-46,-42,-39,-36,-33,-30,-27,-24],
[-15,-52,-49,-46,-43,-37,-34,-31,-27,-24],
[-17,-52,-50,-47,-44,-42,-37,-34,-30,-28,-23,-20],
[-19,-51,-48,-46,-41,-33,-30,-22,-19,-16,-13],
[-21,-49,-47,-45,-39,-32,-29,-22,-19,-16,-13,-11],
[-23,-47,-45,-44,-31,-29,-23,-20,-17,-14,-11,-8,-4],
[11,7,10,12],[9,7,10,13,17],[7,5,7,10,17,19],[5,5,8,10,16,18],[3,-6,-4,-2,5,7,12],[1,-6,-4,6,9,15],[-1,9,12,15],[-3,9,13],
[-25,-36,-33,-28,-26,-23,-20,-17,-13,-10,-7,-4,-2,3,5,7,11,14,17,20],
[-27,-36,-34,-26,-23,-17,-14,-10,-7,-3,0,3,9,11,15,20,22],
[-29,-39,-36,-33,-27,-24,-21,-17,-13,-10,-6,-3,1,9,11,14,21,23],
[-31,-40,-38,-35,-29,-22,-18,-15,-13,-5,-2,2,8,11,14,20,22,25],
[-33,-39,-29,-25,-18,-15,-7,-2,3,5,7,15,20,23,26],
[-35,-38,-36,-28,-24,-20,-17,-8,-1,5,7,15,19,27],
[-37,-42,-38,-35,-33,-26,-23,-20,-9,-3,-1,7,14,17],
[-39,-42,-39,-36,-33,-27,-24,-22,-10,-8,-1,1,8,10],
[-41,-43,-40,-38,-26,-24,-22,-11,-8,1,4,8],
[-43,-41,-39,-26,-23,-9,-7,2,4],
[-45,-40,-25,-22,-10,-8,2,5],
[-47,-38,-32,-30,-27,-25,-11,-7,-2,2],
[-49,-37,-34,-31,-29,-27,-25,-13,-9,-4,-2,12,19,21,29],
[-51,-40,-37,-35,-31,-29,-26,-24,-8,-5,-3,12,15,18,27,30],
[-53,-39,-37,-34,-31,-28,-26,-24,-7,-4,12,15,19,28,30],
[-55,-38,-32,-29,-27,-25,-6,-3,1,4,8,12,17,22,25,29],
[-57,-30,-27,-24,-5,-2,3,8,11,15,17,20,23,26,28],
[-59,-29,-26,-3,2,6,11,14,17,20,22,24,27],
[-61,2,6,8,11,14,19,21,23,25],
[-63,1,5,11,14,20,22,25],
[-65,2,5,9,12,16,20]
];
const augPinkPoints=[
[-24.8,28.7],[-23.7,26.7],[-26.5,23.1],[-23.3,22.5],[-20.8,22.5],[-27.2,20.8],[-26.9,20.2],[-24.4,21.5],[-14.1,21.8],[-16.2,19.5],[-13,19.9],[-24.8,18.2],[-23.7,16.3],[-21.2,16.6],[-18.7,15.6],[-14.1,16.3],[-9.5,16],[-10.5,14.7],[-14.8,13],[-10.9,12.4],[-13.4,11.1],[-19.4,11.4],[-15.5,10.1],[-5.2,8.5],[-5.6,9.8],[-0.9,9.4],[-14.4,8.8],[-13.7,7.5],[-15.9,3.9],[-18.4,6.8],[-7.7,3.6],[-8.4,1.3],[-10.5,1.9],[-3.1,2.8],[2.96,1.3],[5.8,0.3],[6.3,11.9],[12.2,10.4],[14,8.7],[9.1,7.4],[11,5.4],[14,4.9],[17.2,2.9],[17.9,4.2],[11.1,1],[11.9,-3.6],[8.9,-4.9],[7.2,-7.8],[12.2,-10.6],[14.7,-13.7],[16.5,-13.4],[16.1,-12.1],[18.6,-18.2],[15.8,-22.4],[14,-21.5],[20.7,-22.8],[20,-24.8],[-14.8,-19.1],[-13,-23.1],[-0.9,-24.4],[6.5,-24.1],[-25.3,-25.1],[-31.5,-9.6],[15.8,29.3],[8.8,23.9],[-23.3,-7.2],
[-25,27],[-27,22],[-25.5,20],[-22.5,18],[-22,15],[-15,18],[-12,17.5],[-12.5,14],[-15.5,15],[-12,12],[-16.5,8],[-16,6],[-15,5],[-17.5,4],
[-83.3,-27.4],[-81.7,-26.7],[-79.6,-26.7],[-77,-25.1],[-76.5,-27.1],[-74.9,-27.6],[-82.8,-29],[-80.2,-28.4],[-78.1,-28.4],[-81.7,-30.3],[-77.5,-30],[-80.2,-31],[-78.6,-32.9],[-74.9,-34.6],[-77,-35.5],[-76.5,-34.2],[-73.4,-38.8],[-72.9,-39.7],[-72.8,-41.3],[-72.4,-43.3],[-71.7,-45.3],[-69.2,-46.9],[-72,-48.2],[-73.1,-46.9],[-71,-50.5],[-69.6,-52.3],[-70,-54],[-69.2,-55.4],[-67.6,-57.1],[-70.1,-58.2],[-68,-58.9],[-66.7,-59.5],[-71.4,-46.9],[-72.1,-50.5],[-70.7,-48.5],[-68.9,-57],
[-79,-30],[-82,-28],[-76,-29.5],[-79,-31.5],[-77,-32],[-76,-33],[-75,-36],[-74,-37.5],[-72.5,-42.3],[-72,-44.3],[-70.8,-52],[-70.3,-56],[-71,-47.5],
[24.4,72.6],[61.2,67.6],[8.6,49.9],[22.1,45.8],[5.8,48.5],[20.9,39.1],[1,38.8],[15.7,29.3],[22.2,29.5],[43.4,15.1],[35.5,9.7],[36,-11],[55.9,-11],[48.8,-11],[34.4,-36.5],[39.9,-40.6],[39.8,-43],
[15.3,-22],[-36.2,-54],[-25.3,-25],[-30.6,-27],[-32.4,-32],[-17,-33.9],[-13.1,-34.8],[-10.2,-35.1],[-6,-34],[-10.6,-30],[-21.6,-36],[-1,-24.5],[0,-26],[8.9,-26],[6.8,-24],[7.2,-32],[18.2,-30],[27.4,-34],[-0.3,-38],[-3.5,-46],[-9.9,-50],[16.8,-50],[-4.2,-56],[2.1,-63.2],[3.3,-66.5]
];

const svg=document.getElementById('fig');
const NS='http://www.w3.org/2000/svg';
const panelBoxes=[{left:160.5,right:1099,top:54,bottom:822,labelX:38},{left:1326,right:2263,top:54,bottom:822,labelX:1205}];
const seriesByPanel=[[baseGreenRows,basePinkPoints],[augGreenRows,augPinkPoints]];
function mk(tag,attrs,parent){const e=document.createElementNS(NS,tag);for(const k in attrs)e.setAttribute(k,attrs[k]);(parent||svg).appendChild(e);return e;}
const defs=mk('defs',{});
panelBoxes.forEach(function(box,pi){
  const sx=function(v){return box.left+(v-xLimits[0])/(xLimits[1]-xLimits[0])*(box.right-box.left);};
  const sy=function(v){return box.bottom-(v-yLimits[0])/(yLimits[1]-yLimits[0])*(box.bottom-box.top);};
  const clip=mk('clipPath',{id:'clip'+pi},defs);
  mk('rect',{x:box.left,y:box.top,width:box.right-box.left,height:box.bottom-box.top},clip);
  const g=mk('g',{});
  
  
  const pts=mk('g',{'clip-path':'url(#clip'+pi+')'},g);
  
  
  const addPoint=function(x,y,color,name){
    const c=mk('circle',{cx:sx(x).toFixed(1),cy:sy(y).toFixed(1),r:5.2,fill:color,stroke:'#fff','stroke-width':1},pts);
    
    
  };
  seriesByPanel[pi][0].forEach(function(row){
    for(let i=1;i<row.length;i++){addPoint(row[i],row[0],'#008000','green-point');}
  });
  seriesByPanel[pi][1].forEach(function(p){addPoint(p[0],p[1],'#ff00ff','magenta-point');});
  const frame=mk('rect',{x:box.left,y:box.top,width:box.right-box.left,height:box.bottom-box.top,fill:'none',stroke:'#000','stroke-width':2.2},g);
  
  
  xTicks.forEach(function(t){
    const x=sx(t);
    const tick=mk('line',{x1:x,x2:x,y1:box.bottom,y2:box.bottom+9,stroke:'#000','stroke-width':2},g);
    
    
    const lab=mk('text',{x:x,y:box.bottom+47,'font-size':40,'text-anchor':'middle'},g);
    lab.textContent=String(t).replace('-','\u2212');
    
    
  });
  yTicks.forEach(function(t){
    const y=sy(t);
    const tick=mk('line',{x1:box.left-9,x2:box.left,y1:y,y2:y,stroke:'#000','stroke-width':2},g);
    
    
    const lab=mk('text',{x:box.left-18,y:y+14.5,'font-size':40,'text-anchor':'end'},g);
    lab.textContent=String(t).replace('-','\u2212');
    
    
  });
  const title=mk('text',{x:(box.left+box.right)/2,y:38,'font-size':50,'text-anchor':'middle'},g);
  title.textContent=panelTitles[pi];
  
  
  const xl=mk('text',{x:(box.left+box.right)/2,y:927,'font-size':50,'text-anchor':'middle'},g);
  xl.textContent=xAxisLabel;
  
  
  const yl=mk('text',{x:0,y:0,'font-size':50,'text-anchor':'middle',transform:'translate('+box.labelX+','+((box.top+box.bottom)/2)+') rotate(-90)'},g);
  yl.textContent=yAxisLabel;
  
  
});
</script>
</body>
</html>
